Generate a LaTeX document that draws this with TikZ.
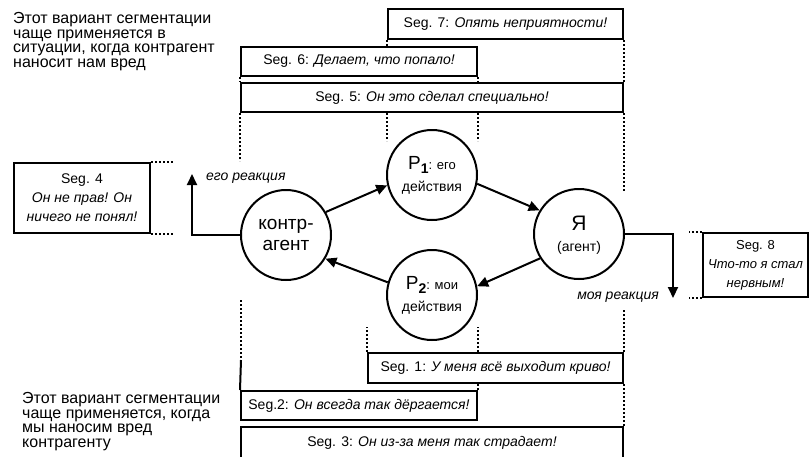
\documentclass[tikz,border=0pt]{standalone}
\usepackage{fontspec}
\setmainfont{Liberation Sans}
\usetikzlibrary{arrows.meta}
\begin{document}
\begin{tikzpicture}[x=1pt,y=-1pt,
  segbox/.style={draw, line width=2pt, inner sep=0pt, font=\fontsize{14}{19}\selectfont, align=center},
  circ/.style={draw, circle, line width=2pt, minimum size=90pt, inner sep=0pt},
  guide/.style={line width=1.8pt, dash pattern=on 2pt off 2pt},
  arr/.style={line width=2pt, -{Triangle[length=11pt,width=10pt]}},
  plain/.style={line width=2pt},
  lbl/.style={font=\fontsize{14}{14}\selectfont\itshape, inner sep=0pt},
  note/.style={font=\fontsize{16}{14.7}\selectfont, align=left, inner sep=0pt, anchor=north west}]
\useasboundingbox (0,0) rectangle (810,456);

% notes
\node[note] (n1) at (13,12) {Этот вариант сегментации\\чаще применяется в\\ситуации, когда контрагент\\наносит нам вред};
\node[note] (n2) at (22,392) {Этот вариант сегментации\\чаще применяется, когда\\мы наносим вред\\контрагенту};

% top segment boxes
\node[segbox, minimum width=235pt, minimum height=30pt] (s7) at (505.5,24) {Seg. 7: \textit{Опять неприятности!}};
\node[segbox, minimum width=236pt, minimum height=29pt] (s6) at (359,61.5) {Seg. 6: \textit{Делает, что попало!}};
\node[segbox, minimum width=382pt, minimum height=29pt] (s5) at (432,97.5) {Seg. 5: \textit{Он это сделал специально!}};

% bottom segment boxes
\node[segbox, minimum width=255pt, minimum height=30pt] (s1) at (495.5,368) {Seg. 1: \textit{У меня всё выходит криво!}};
\node[segbox, minimum width=236pt, minimum height=29pt] (s2) at (359,405.5) {Seg.2: \textit{Он всегда так дёргается!}};
\node[segbox, minimum width=382pt, minimum height=31pt] (s3) at (432,442.5) {Seg. 3: \textit{Он из-за меня так страдает!}};

% side boxes
\node[segbox, minimum width=136pt, minimum height=70pt] (s4) at (82,198) {Seg. 4\\\textit{Он не прав! Он}\\\textit{ничего не понял!}};
\node[segbox, minimum width=105pt, minimum height=64pt, font=\fontsize{13}{19}\selectfont] (s8) at (755.5,265) {Seg. 8\\\textit{Что-то я стал}\\\textit{нервным!}};

% circles
\node[circ] (ka) at (286,235) {};
\node[circ] (p1) at (432,175) {};
\node[circ] (ya) at (579,234) {};
\node[circ] (p2) at (432,295) {};

\node[inner sep=0pt, align=center, font=\fontsize{19}{21}\selectfont] (kat) at (286,235) {контр-\\агент};
\node[inner sep=0pt, font=\fontsize{21}{21}\selectfont] (yat1) at (579,223) {Я};
\node[inner sep=0pt, font=\fontsize{14}{14}\selectfont] (yat2) at (579,248) {(агент)};
\node[inner sep=0pt] (p1t1) at (432,165) {{\fontsize{19}{19}\selectfont P}\raisebox{-4pt}{\fontsize{14}{14}\selectfont\bfseries 1}{\fontsize{13}{13}\selectfont: его}};
\node[inner sep=0pt, font=\fontsize{14}{14}\selectfont] (p1t2) at (432,188) {действия};
\node[inner sep=0pt] (p2t1) at (432,285) {{\fontsize{19}{19}\selectfont P}\raisebox{-4pt}{\fontsize{14}{14}\selectfont\bfseries 2}{\fontsize{13}{13}\selectfont: мои}};
\node[inner sep=0pt, font=\fontsize{14}{14}\selectfont] (p2t2) at (432,308) {действия};

% cycle arrows
\draw[arr] (ka.30) -- (p1.193);
\draw[arr] (p1.349) -- (ya.149);
\draw[arr] (ya.212) -- (p2.11);
\draw[arr] (p2.164) -- (ka.329);

% reactions
\coordinate (er) at (192,174);
\coordinate (mr) at (673,298);
\draw[arr] (ka.west) -| (er);
\draw[arr] (ya.east) -| (mr);
\node[lbl, anchor=west] (erl) at (206,178) {его реакция};
\node[lbl, anchor=east] (mrl) at (659,297) {моя реакция};

% side stubs
\draw[guide] (s4.north east) -- ++(22,0);
\draw[guide] (s4.south east) -- ++(22,0);
\draw[guide] (s8.north west) -- ++(-13,0);
\draw[guide] (s8.south west) -- ++(-13,0);

% top guides
\draw[guide] (s7.south west) -- (s7.south west |- s6.north);
\draw[guide] (s6.south west) -- (s5.north west);
\draw[guide] (s6.south east) -- (s6.south east |- s5.north);
\draw[guide] (s7.south east) -- (s5.north east);
\draw[guide] (s5.south west) -- ++(0,48);
\draw[guide] (s7.south west |- s5.south) -- ++(0,28);
\draw[guide] (s6.south east |- s5.south) -- ++(0,28);
\draw[guide] (s5.south east) -- ++(0,78);

% bottom guides
\coordinate (g1) at (241,360);
\draw[guide] (241,300) -- (g1);
\draw[plain] (g1) -- (s2.north west);
\draw[guide] (s1.north west) -- ++(0,-25);
\draw[guide] (s2.north east |- s1.north) -- ++(0,-25);
\draw[guide] (s2.north east |- s1.south) -- (s2.north east);
\draw[guide] (s1.north east) -- ++(0,-43);
\draw[guide] (s1.south east) -- (s3.north east);
\end{tikzpicture}
\end{document}
